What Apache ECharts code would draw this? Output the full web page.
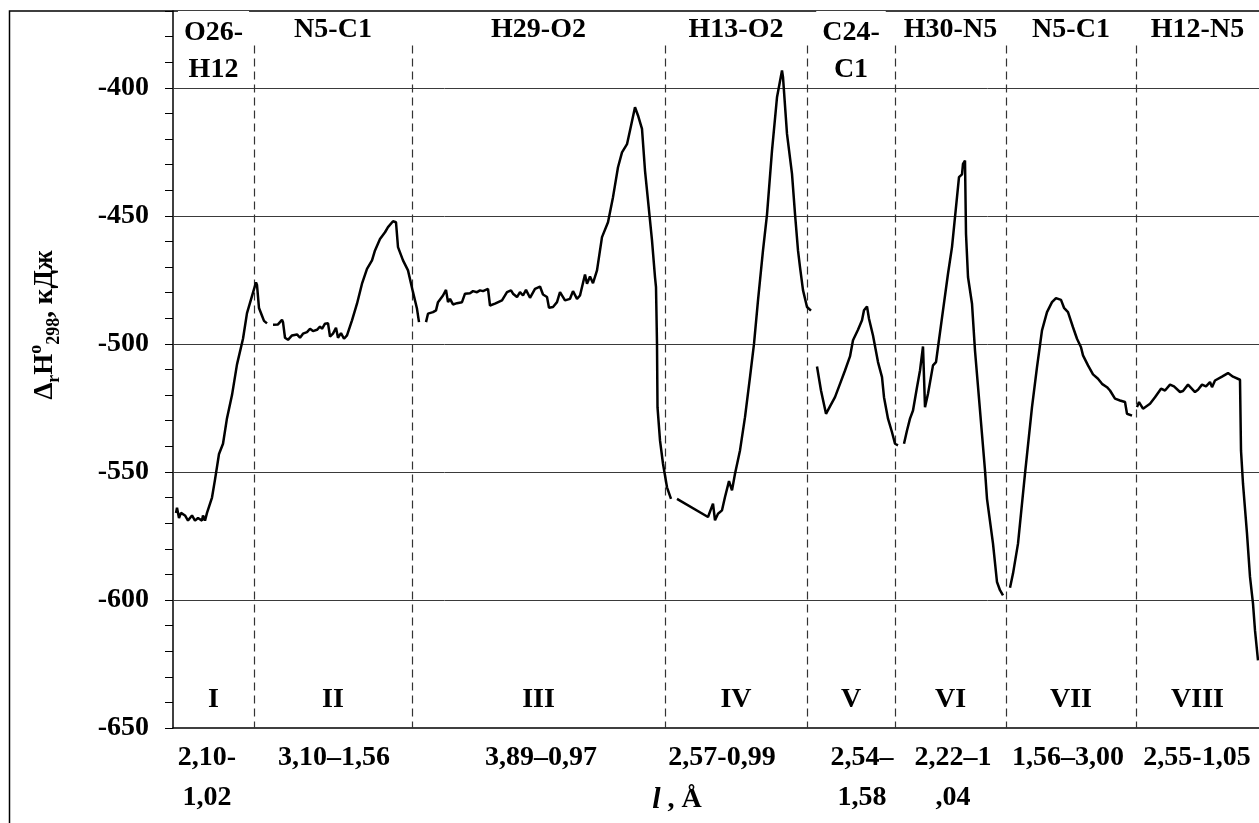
<!DOCTYPE html>
<html>
<head>
<meta charset="utf-8">
<script src="https://cdn.jsdelivr.net/npm/echarts@6/dist/echarts.min.js"></script>
<style>
html, body { margin: 0; padding: 0; background: #fff; }
#container { width: 1259px; height: 823px; }
</style>
</head>
<body>
<div id="container"></div>
<script>
// positions along the reaction path: 0..1086, region borders between stages
var boundaries = [0, 81, 239, 492, 634, 722, 833, 963, 1086];
var topLabels = ['O26-\nH12', 'N5-C1', 'H29-O2', 'H13-O2', 'C24-\nC1', 'H30-N5', 'N5-C1', 'H12-N5'];
var romanLabels = ['I', 'II', 'III', 'IV', 'V', 'VI', 'VII', 'VIII'];
var rangeLabels = ['2,10-\n1,02', '3,10–1,56', '3,89–0,97', '2,57-0,99', '2,54–\n1,58', '2,22–1\n,04', '1,56–3,00', '2,55-1,05'];
var rangeLabelX = [34, 161, 368, 549, 689, 780, 895, 1024];
var gridValues = [-600, -550, -500, -450, -400];

// ΔrH°298, kJ along each stage
var segI = [[3,-566],[4,-564],[6,-568],[8,-566],[12,-567],[15,-569],[19,-567],[22,-569],[25,-568],[29,-569],[30,-567],[32,-569],[34,-566],[39,-560],[42,-553],[46,-543],[50,-539],[54,-529],[59,-520],[64,-508],[70,-498],[74,-488],[77,-484],[80,-480],[83,-476],[84,-477],[86,-486],[89,-489],[91,-491],[94,-492]];
var segII = [[100,-492.5],[105,-492.4],[109,-490.6],[110,-491.5],[112,-497.6],[115,-498.4],[119,-496.7],[124,-496.3],[127,-497.6],[130,-496],[134,-495.4],[137,-494.1],[140,-495],[144,-494.5],[147,-493.2],[149,-494.1],[152,-492.1],[155,-491.9],[157,-497.1],[160,-496],[163,-493.7],[165,-497.6],[168,-495.8],[171,-498],[174,-496.7],[179,-490.8],[184,-484.3],[189,-476.5],[194,-470.7],[199,-467.4],[202,-463.5],[207,-459],[212,-456.4],[215,-454.4],[220,-452.1],[223,-452.5],[225,-462.2],[230,-467.4],[235,-471.3],[240,-479.8],[244,-486.3],[246,-491.5]];
var segIII = [[253,-491.5],[255,-488.2],[260,-487.6],[263,-486.9],[265,-483.7],[270,-481.1],[273,-478.9],[275,-483.7],[277,-482.4],[280,-484.6],[284,-484.1],[289,-483.7],[292,-480.4],[297,-480.2],[300,-479.4],[302,-478.9],[304,-479.8],[307,-479.1],[310,-479.4],[315,-478.5],[317,-485],[322,-484.3],[329,-483],[334,-479.8],[338,-479.1],[340,-480.4],[344,-481.7],[347,-479.8],[350,-481.1],[353,-478.9],[357,-482],[362,-478.5],[367,-477.6],[370,-480.7],[374,-481.7],[376,-485.9],[380,-485.6],[384,-483.7],[387,-479.8],[392,-483],[397,-482.4],[400,-479.4],[404,-482.4],[407,-481.1],[412,-472.9],[414,-476.5],[417,-473.7],[420,-476.3],[424,-471.3],[427,-463.5],[429,-458.3],[435,-452.5],[440,-442.7],[445,-431],[449,-425.2],[454,-422],[457,-416.7],[462,-407.6],[465,-410.8],[469,-416],[472,-432.3],[475,-444],[479,-459.6],[482,-473.9],[483,-477.8],[484,-500],[484.5,-524.7],[487,-537.7],[490,-546.8],[494,-556],[498,-560.5]];
var segIV = [[504,-560.5],[535,-567.6],[540,-562.4],[542,-568.9],[545,-566.3],[549,-565],[552,-559.8],[556,-553.6],[559,-557.2],[562,-550.7],[567,-541.6],[572,-528.6],[577,-513],[581,-500],[585,-483],[588,-471.3],[590,-463.5],[594,-449.5],[599,-424.5],[604,-403.7],[609,-393.2],[610,-395.8],[614,-418],[619,-433.6],[622,-449.2],[625,-463.5],[627,-470],[630,-479],[634,-485.6],[638,-487]];
var segV = [[644,-508.8],[648,-518.2],[653,-527.3],[657,-524.4],[662,-520.8],[667,-515.6],[672,-510.4],[677,-504.9],[680,-498.6],[685,-494.5],[689,-490.8],[691,-486.9],[694,-485.4],[696,-490.2],[700,-496.7],[705,-507.1],[709,-513],[711,-520.8],[715,-529.2],[719,-534.5],[722,-539],[725,-539.6]];
var segVI = [[731,-539],[734,-533.8],[737,-529.2],[740,-526],[744,-516.9],[747,-510.4],[750,-501],[752,-524.7],[755,-519.5],[760,-508.4],[763,-507.1],[765,-501.3],[770,-486.9],[775,-472.6],[779,-462.2],[783,-446.6],[786,-434.9],[789,-433.8],[790,-429.7],[792,-428.4],[793,-457],[795,-473.9],[799,-484.3],[802,-502.6],[807,-526],[812,-549.4],[814,-560.5],[815,-561.1],[820,-578],[824,-593],[827,-596.2],[830,-598.2]];
var segVII = [[837,-595.2],[840,-589.7],[845,-578],[852,-550.7],[859,-524.7],[864,-509.1],[869,-494.7],[874,-487.6],[879,-483.7],[883,-482.1],[888,-482.8],[891,-485.9],[895,-487.6],[900,-493.5],[904,-498],[908,-501.3],[910,-504.5],[915,-508.4],[920,-511.9],[925,-513.6],[929,-515.6],[934,-516.9],[937,-518.2],[942,-521.4],[947,-522.1],[952,-522.7],[954,-527.3],[959,-528]];
var segVIII = [[964,-524.7],[966,-522.7],[970,-525.3],[977,-523.4],[982,-520.8],[988,-517.5],[992,-518.2],[997,-515.9],[1001,-516.6],[1007,-518.8],[1010,-518.4],[1015,-515.9],[1022,-518.8],[1025,-517.9],[1029,-515.9],[1033,-516.6],[1037,-514.9],[1039,-516.9],[1042,-514.3],[1049,-512.8],[1055,-511.4],[1060,-512.8],[1067,-514],[1068,-541.6],[1070,-554.6],[1074,-574.1],[1077,-591],[1080,-601.4],[1082,-611.9],[1085,-623.6]];
var segments = [segI, segII, segIII, segIV, segV, segVI, segVII, segVIII];

var FONT = "'Liberation Serif', 'Times New Roman', serif";

var dom = document.getElementById("container");
var myChart = echarts.init(dom);

var centers = [];
for (var i = 0; i < topLabels.length; i++) {
    centers.push((boundaries[i] + boundaries[i + 1]) / 2);
}

// grid lines + dashed stage borders
var markData = [];
for (var g = 0; g < gridValues.length; g++) {
    markData.push([
        {coord: [0, gridValues[g]], lineStyle: {color: '#3a3a3a', width: 1, type: 'solid'}},
        {coord: [1086, gridValues[g]]}
    ]);
}
for (var b = 1; b < boundaries.length - 1; b++) {
    markData.push([
        {coord: [boundaries[b], -383.5], lineStyle: {color: '#333', width: 1.2, type: [8, 5]}},
        {coord: [boundaries[b], -650]}
    ]);
}

var series = [];
for (var s = 0; s < segments.length; s++) {
    series.push({
        type: 'line',
        data: segments[s],
        symbol: 'none',
        lineStyle: {color: '#000', width: 2.5},
        z: 5
    });
}
series[0].markLine = {
    silent: true,
    symbol: ['none', 'none'],
    label: {show: false},
    data: markData,
    z: 3
};

var textStyle = {fontFamily: FONT, fontWeight: 'bold', fontSize: 28, color: '#000'};

// top labels (bond names)
var topData = [];
for (var t = 0; t < topLabels.length; t++) {
    var item = {value: [centers[t], -370]};
    if (topLabels[t].indexOf('\n') != -1) {
        item.label = {backgroundColor: '#fff', padding: [3, 6, 0, 6]};
    }
    topData.push(item);
}
series.push({
    type: 'scatter', data: topData, symbolSize: 0, clip: false, silent: true, z: 6,
    itemStyle: {opacity: 1},
    label: Object.assign({
        show: true, position: 'bottom', distance: 0, lineHeight: 37,
        formatter: function (p) { return topLabels[p.dataIndex]; }
    }, textStyle)
});

// roman stage numbers
var romanData = [];
for (var r = 0; r < romanLabels.length; r++) {
    romanData.push([centers[r], -639]);
}
series.push({
    type: 'scatter', data: romanData, symbolSize: 0, clip: false, silent: true, z: 6,
    itemStyle: {opacity: 1},
    label: Object.assign({
        show: true, position: 'inside',
        formatter: function (p) { return romanLabels[p.dataIndex]; }
    }, textStyle)
});

// distance ranges below axis
var rangeData = [];
for (var q = 0; q < rangeLabels.length; q++) {
    rangeData.push([rangeLabelX[q], -654]);
}
series.push({
    type: 'scatter', data: rangeData, symbolSize: 0, clip: false, silent: true, z: 6,
    itemStyle: {opacity: 1},
    label: Object.assign({
        show: true, position: 'bottom', distance: 0, lineHeight: 40,
        formatter: function (p) { return rangeLabels[p.dataIndex]; }
    }, textStyle)
});

var option = {
    animation: false,
    backgroundColor: '#fff',
    grid: {left: 173, right: 0, top: 11, bottom: 95},
    xAxis: {
        type: 'value', min: 0, max: 1086,
        axisLine: {show: true, onZero: false, lineStyle: {color: '#000', width: 1.5}},
        axisTick: {show: false},
        axisLabel: {show: false},
        splitLine: {show: false}
    },
    yAxis: {
        type: 'value', min: -650, max: -370, interval: 10,
        axisLine: {show: true, lineStyle: {color: '#000', width: 1.5}},
        axisTick: {show: true, length: 8, lineStyle: {color: '#000', width: 1}},
        axisLabel: {
            margin: 24, fontFamily: FONT, fontWeight: 'bold', fontSize: 28, color: '#000',
            formatter: function (v) { return v % 50 === 0 ? String(v) : ''; }
        },
        splitLine: {show: false}
    },
    graphic: [
        {
            type: 'rect', z: 0,
            shape: {x: 9.5, y: 11, width: 1400, height: 900},
            style: {fill: null, stroke: '#000', lineWidth: 1.5}
        },
        {
            type: 'text', x: 45, y: 325, rotation: Math.PI / 2, z: 10,
            style: {
                text: '{b|Δ}{sub|r}{b|H}{sup|o}{sub|298}{b|, кДж}',
                align: 'center', verticalAlign: 'middle',
                rich: {
                    b: {fontFamily: FONT, fontWeight: 'bold', fontSize: 27, lineHeight: 36, fill: '#000'},
                    sub: {fontFamily: FONT, fontWeight: 'bold', fontSize: 18, lineHeight: 36, verticalAlign: 'bottom', padding: [12, 0, 0, 0], fill: '#000'},
                    sup: {fontFamily: FONT, fontWeight: 'bold', fontSize: 18, lineHeight: 36, verticalAlign: 'top', padding: [0, 0, 12, 0], fill: '#000'}
                }
            }
        },
        {
            type: 'text', x: 677, y: 800, z: 10,
            style: {
                text: '{i|l}{b| , Å}',
                align: 'center', verticalAlign: 'middle',
                rich: {
                    i: {fontFamily: FONT, fontWeight: 'bold', fontStyle: 'italic', fontSize: 30, fill: '#000'},
                    b: {fontFamily: FONT, fontWeight: 'bold', fontSize: 28, fill: '#000'}
                }
            }
        }
    ],
    series: series
};
myChart.setOption(option, true);
</script>
</body>
</html>
